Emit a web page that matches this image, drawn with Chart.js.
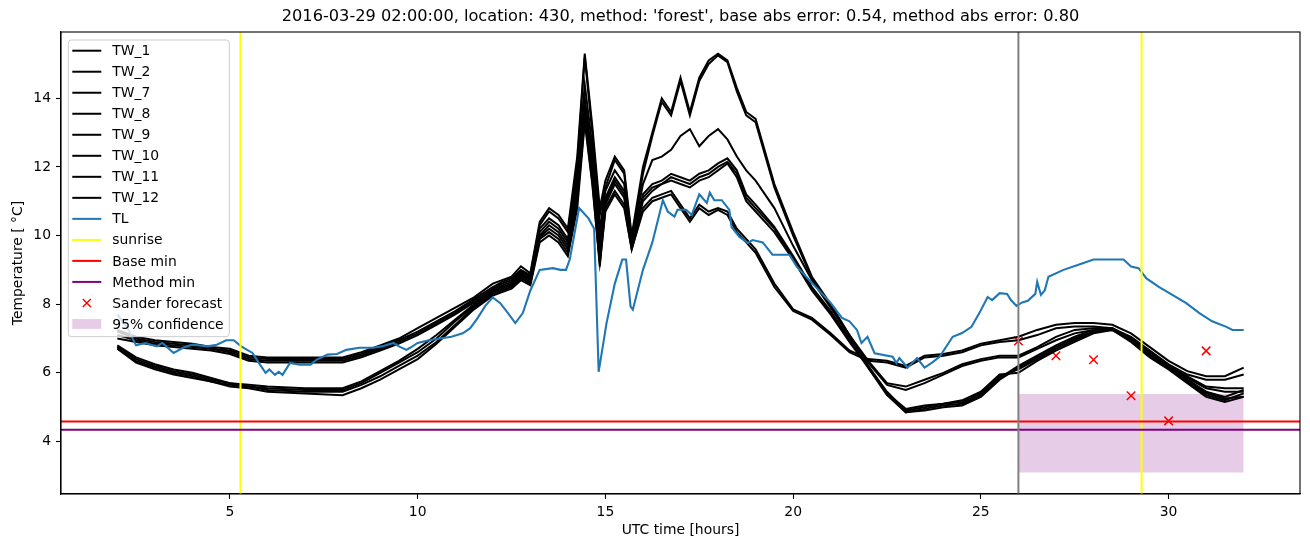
<!DOCTYPE html>
<html>
<head>
<meta charset="utf-8">
<script src="https://cdn.jsdelivr.net/npm/chart.js@4/dist/chart.umd.min.js"></script>
<style>
  body { margin: 0; background: #fff; }
  #wrap { width: 1310px; height: 547px; }
</style>
</head>
<body>
<div id="wrap"><canvas id="temperature-chart" width="1310" height="547"></canvas></div>
<script>
// hours shared by the TW series
const twHours = [2, 2.5, 3, 3.5, 4, 4.5, 5, 5.5, 6, 7, 8,
    8.5, 9, 9.5, 10, 10.5, 11, 11.5, 12,
    12.25, 12.5, 12.75, 13, 13.25, 13.5, 13.75, 14, 14.25, 14.45, 14.65, 14.85,
    15, 15.25, 15.5, 15.7, 16, 16.25, 16.5, 16.75, 17, 17.25, 17.5, 17.75, 18, 18.25, 18.5, 18.75, 19, 19.5,
    20, 20.5, 21, 21.5, 22, 22.5,
    23, 23.5, 24, 24.5, 25, 25.5, 26, 26.5, 27, 27.5, 28, 28.5, 29, 29.5, 30, 30.5, 31, 31.5, 32];

const tw1 = [7.25, 7.05, 6.95, 6.9, 6.85, 6.75, 6.7, 6.5, 6.45, 6.45, 6.45,
    6.6, 6.8, 7.0, 7.3, 7.6, 7.9, 8.2, 8.6,
    8.7, 8.8, 9.1, 8.9, 10.4, 10.8, 10.6, 10.2, 12.3, 15.3, 13.2, 10.8,
    11.6, 12.3, 11.9, 10.0, 12.0, 13.0, 14.0, 13.6, 14.6, 13.6, 14.6, 15.1, 15.3, 15.1, 14.3, 13.6, 13.4, 11.5,
    10.1, 8.8, 8.0, 7.1, 6.2, 5.4,
    4.85, 4.95, 5.05, 5.1, 5.35, 5.85, 6.2, 6.5, 6.8, 7.05, 7.25, 7.3, 6.95, 6.5, 6.15, 5.75, 5.35, 5.2, 5.4];
const tw2 = [7.2, 7.0, 6.9, 6.85, 6.8, 6.7, 6.65, 6.45, 6.4, 6.4, 6.4,
    6.55, 6.75, 6.95, 7.2, 7.5, 7.8, 8.15, 8.5,
    8.65, 8.75, 9.0, 8.85, 10.3, 10.7, 10.5, 10.1, 12.1, 15.2, 13.0, 10.6,
    11.4, 12.2, 11.8, 9.9, 11.8, 12.9, 13.9, 13.5, 14.5, 13.5, 14.5, 15.0, 15.25, 15.05, 14.2, 13.5, 13.3, 11.4,
    10.0, 8.75, 7.95, 7.05, 6.15, 5.35,
    4.85, 4.9, 5.0, 5.05, 5.3, 5.8, 6.15, 6.45, 6.75, 7.0, 7.2, 7.25, 6.9, 6.45, 6.1, 5.7, 5.3, 5.15, 5.3];
const tw7 = [7.1, 6.95, 6.85, 6.8, 6.75, 6.7, 6.6, 6.4, 6.35, 6.35, 6.35,
    6.5, 6.7, 6.9, 7.15, 7.45, 7.75, 8.1, 8.45,
    8.6, 8.7, 8.95, 8.8, 10.2, 10.5, 10.3, 9.9, 11.8, 14.4, 12.6, 10.2,
    11.3, 11.9, 11.5, 9.8, 11.5, 12.2, 12.3, 12.5, 12.9, 13.1, 12.6, 12.9, 13.1, 12.8, 12.3, 11.9, 11.6, 10.8,
    9.7, 8.7, 7.9, 7.1, 6.35, 5.7,
    5.6, 5.8, 6.0, 6.25, 6.4, 6.5, 6.5, 6.75, 7.05, 7.25, 7.3, 7.3, 7.0, 6.6, 6.2, 5.9, 5.6, 5.55, 5.55];
const tw8 = [7.0, 6.9, 6.8, 6.75, 6.7, 6.65, 6.55, 6.35, 6.3, 6.3, 6.3,
    6.45, 6.65, 6.85, 7.1, 7.4, 7.7, 8.05, 8.4,
    8.55, 8.65, 8.9, 8.75, 10.1, 10.4, 10.2, 9.8, 11.6, 14.0, 12.3, 9.9,
    11.1, 11.7, 11.3, 9.8, 11.2, 11.5, 11.6, 11.8, 11.7, 11.6, 11.8, 11.9, 12.1, 12.25, 11.9, 11.2, 10.9, 10.25,
    9.4, 8.5, 7.8, 7.0, 6.3, 5.65,
    5.5, 5.7, 5.95, 6.2, 6.35, 6.45, 6.45, 6.7, 6.95, 7.15, 7.25, 7.25, 6.95, 6.55, 6.15, 5.85, 5.55, 5.45, 5.45];
const tw9 = [6.8, 6.45, 6.25, 6.1, 6.0, 5.85, 5.7, 5.65, 5.6, 5.55, 5.55,
    5.75, 6.05, 6.35, 6.7, 7.1, 7.55, 8.0, 8.4,
    8.5, 8.6, 8.85, 8.7, 10.0, 10.3, 10.1, 9.7, 11.4, 13.8, 12.0, 9.6,
    11.0, 11.6, 11.2, 9.7, 11.1, 11.4, 11.5, 11.7, 11.6, 11.5, 11.7, 11.8, 12.0, 12.15, 11.8, 11.1, 10.8, 10.2,
    9.35, 8.45, 7.75, 6.95, 6.2, 5.45,
    4.9, 5.0, 5.1, 5.15, 5.4, 5.9, 6.1, 6.4, 6.7, 6.95, 7.2, 7.3, 7.0, 6.55, 6.2, 5.8, 5.45, 5.3, 5.5];
const tw10 = [6.75, 6.4, 6.2, 6.05, 5.95, 5.8, 5.7, 5.6, 5.55, 5.5, 5.5,
    5.7, 6.0, 6.3, 6.6, 7.0, 7.5, 7.95, 8.35,
    8.45, 8.55, 8.8, 8.65, 9.95, 10.2, 10.0, 9.6, 11.2, 13.6, 11.8, 9.3,
    10.9, 11.5, 11.1, 9.7, 11.0, 11.3, 11.5, 11.6, 11.5, 11.4, 11.6, 11.7, 11.9, 12.1, 11.7, 11.0, 10.7, 10.1,
    9.3, 8.4, 7.7, 6.9, 6.15, 5.4,
    4.95, 5.05, 5.1, 5.2, 5.45, 5.95, 6.0, 6.35, 6.65, 6.9, 7.15, 7.25, 6.95, 6.5, 6.15, 5.75, 5.4, 5.25, 5.3];
const tw11 = [6.75, 6.35, 6.15, 6.0, 5.9, 5.75, 5.65, 5.6, 5.5, 5.45, 5.45,
    5.65, 5.9, 6.2, 6.5, 6.9, 7.4, 7.9, 8.3,
    8.4, 8.5, 8.75, 8.6, 9.9, 10.1, 9.9, 9.5, 11.0, 13.4, 11.6, 9.1,
    10.8, 11.3, 10.9, 9.6, 10.8, 11.1, 11.2, 11.3, 10.9, 10.5, 10.9, 10.7, 10.8, 10.7, 10.2, 9.9, 9.6, 8.6,
    7.85, 7.6, 7.15, 6.65, 6.4, 6.35,
    6.2, 6.5, 6.55, 6.65, 6.85, 6.95, 7.05, 7.25, 7.4, 7.45, 7.45, 7.4, 7.15, 6.75, 6.35, 6.05, 5.9, 5.9, 6.15];
const tw12 = [6.7, 6.3, 6.1, 5.95, 5.85, 5.75, 5.6, 5.55, 5.45, 5.4, 5.35,
    5.55, 5.8, 6.1, 6.4, 6.85, 7.35, 7.85, 8.25,
    8.35, 8.45, 8.7, 8.55, 9.8, 10.0, 9.8, 9.4, 10.8, 13.3, 11.5, 9.2,
    10.7, 11.2, 10.8, 9.6, 10.7, 11.0, 11.1, 11.2, 10.8, 10.4, 10.8, 10.6, 10.75, 10.6, 10.1, 9.8, 9.5, 8.5,
    7.8, 7.55, 7.1, 6.6, 6.35, 6.3,
    6.15, 6.45, 6.5, 6.6, 6.8, 6.9, 6.95, 7.1, 7.3, 7.35, 7.35, 7.3, 7.05, 6.65, 6.25, 5.95, 5.8, 5.8, 5.95];

// measured air temperature
const tlHours = [2.0, 2.25, 2.5, 2.75, 3.05, 3.2, 3.5, 3.75, 4.0, 4.4, 4.65, 4.9, 5.1, 5.3, 5.6, 5.8, 5.95,
    6.05, 6.2, 6.3, 6.4, 6.6, 6.85, 7.15, 7.3, 7.6, 7.85, 8.1, 8.45, 8.8, 9.05, 9.35, 9.5, 9.7, 9.8,
    10.0, 10.3, 10.6, 10.9, 11.2, 11.4, 11.6, 11.8, 12.0, 12.2, 12.4, 12.6, 12.8, 13.0, 13.25, 13.6,
    13.8, 13.95, 14.05, 14.3, 14.55, 14.7, 14.82, 15.03, 15.25, 15.45, 15.55, 15.67, 15.73, 16.0,
    16.25, 16.53, 16.66, 16.84, 16.92, 17.15, 17.3, 17.5, 17.7, 17.78, 17.9, 18.1, 18.3, 18.36,
    18.57, 18.79, 18.92, 19.19, 19.45, 19.9, 20.1, 20.5, 21.0, 21.3, 21.5, 21.7, 21.82, 21.98,
    22.17, 22.65, 22.75, 22.83, 23.05, 23.3, 23.5, 23.7, 23.9, 24.25, 24.5, 24.75, 24.96, 25.18,
    25.3, 25.5, 25.7, 25.8, 25.95, 26.1, 26.25, 26.45, 26.5, 26.6, 26.7, 26.8, 27.2, 27.6, 28.0,
    28.4, 28.8, 29.0, 29.2, 29.41, 29.75, 30.1, 30.47, 30.82, 31.16, 31.54, 31.7, 32.0];
const tlTemp = [7.7, 7.35, 6.8, 6.87, 6.77, 6.87, 6.58, 6.73, 6.82, 6.77, 6.82, 6.95, 6.95, 6.77, 6.58, 6.24, 6.0,
    6.1, 5.94, 6.03, 5.94, 6.29, 6.24, 6.24, 6.38, 6.53, 6.55, 6.67, 6.73, 6.73, 6.77, 6.87, 6.77, 6.67, 6.73,
    6.87, 6.95, 7.0, 7.05, 7.15, 7.3, 7.6, 7.95, 8.2, 8.03, 7.75, 7.45, 7.74, 8.4, 9.0, 9.05,
    9.0, 9.0, 9.3, 10.8, 10.5, 10.2, 6.03, 7.45, 8.6, 9.3, 9.3, 7.93, 7.84, 9.0,
    9.8, 11.03, 10.7, 10.55, 10.75, 10.75, 10.6, 11.2, 10.95, 11.25, 11.03, 11.03, 10.75, 10.25,
    9.96, 9.78, 9.87, 9.8, 9.44, 9.44, 9.09, 8.62, 8.04, 7.6, 7.5, 7.25, 6.87, 7.05,
    6.57, 6.47, 6.29, 6.43, 6.15, 6.43, 6.15, 6.3, 6.47, 7.05, 7.16, 7.34, 7.74, 8.21,
    8.12, 8.32, 8.3, 8.12, 7.95, 8.05, 8.1, 8.3, 8.65, 8.27, 8.4, 8.8, 9.0, 9.15, 9.3,
    9.3, 9.3, 9.1, 9.05, 8.75, 8.5, 8.27, 8.03, 7.74, 7.5, 7.34, 7.25, 7.25];

const sunriseHours = [5.28, 29.28];
const nowHour = 26;
const baseMin = 4.58;
const methodMin = 4.34;

const sanderHours = [26, 27, 28, 29, 30, 31];
const sanderTemp = [6.93, 6.5, 6.38, 5.33, 4.6, 6.64];

const confHours = [26, 32];
const confLow = 3.1;
const confHigh = 5.38;

const xTicks = [5, 10, 15, 20, 25, 30];
const yTicks = [4, 6, 8, 10, 12, 14];
const xMin = 0.5, xMax = 33.5;
const yMin = 2.47, yMax = 15.93;

const chartTitle = "2016-03-29 02:00:00, location: 430, method: 'forest', base abs error: 0.54, method abs error: 0.80";
const twNames = ["TW_1", "TW_2", "TW_7", "TW_8", "TW_9", "TW_10", "TW_11", "TW_12"];
const twSeries = [tw1, tw2, tw7, tw8, tw9, tw10, tw11, tw12];

function pts(xs, ys) {
    return xs.map(function (x, i) { return { x: x, y: ys[i] }; });
}

Chart.defaults.font.family = "'DejaVu Sans', sans-serif";
Chart.defaults.color = "#000";

var datasets = [];
twSeries.forEach(function (s, i) {
    datasets.push({
        label: twNames[i], data: pts(twHours, s), legendType: "line",
        borderColor: "#000", borderWidth: 2, order: 60 - i,
    });
});
datasets.push({ label: "TL", data: pts(tlHours, tlTemp), legendType: "line",
    borderColor: "#1f77b4", borderWidth: 2.1, order: 40 });
datasets.push({ label: "sunrise", legendType: "line", borderColor: "#ffff00", borderWidth: 2, order: 30,
    data: [{ x: sunriseHours[0], y: yMin }, { x: sunriseHours[0], y: yMax }] });
datasets.push({ label: "Base min", legendType: "line", borderColor: "#ff0000", borderWidth: 2, order: 28,
    data: [{ x: xMin, y: baseMin }, { x: xMax, y: baseMin }] });
datasets.push({ label: "Method min", legendType: "line", borderColor: "#800080", borderWidth: 2, order: 27,
    data: [{ x: xMin, y: methodMin }, { x: xMax, y: methodMin }] });
datasets.push({ label: "Sander forecast", legendType: "marker", data: pts(sanderHours, sanderTemp),
    showLine: false, pointStyle: "crossRot", pointRadius: 6, borderColor: "#ff0000",
    pointBorderColor: "#ff0000", pointBorderWidth: 1.5, order: 99 });
datasets.push({ label: "95% confidence", legendType: "patch",
    data: [{ x: confHours[0], y: confHigh }, { x: confHours[1], y: confHigh }],
    fill: "+1", backgroundColor: "rgba(128,0,128,0.2)", borderWidth: 0, order: 100 });
datasets.push({ data: [{ x: confHours[0], y: confLow }, { x: confHours[1], y: confLow }],
    borderWidth: 0, order: 100 });
// second sunrise and the forecast time, not in the legend
datasets.push({ borderColor: "#ffff00", borderWidth: 2, order: 29,
    data: [{ x: sunriseHours[1], y: yMin }, { x: sunriseHours[1], y: yMax }] });
datasets.push({ borderColor: "#808080", borderWidth: 2, order: 26,
    data: [{ x: nowHour, y: yMin }, { x: nowHour, y: yMax }] });

// matplotlib style frame, title over the axes and legend box inside them
const boxLegend = {
    id: "boxLegend",
    afterDraw: function (chart) {
        const c = chart.ctx, a = chart.chartArea;
        c.save();
        c.strokeStyle = "#000";
        c.lineWidth = 1.1;
        c.strokeRect(a.left, a.top, a.right - a.left, a.bottom - a.top);

        c.fillStyle = "#000";
        c.font = "16.2px 'DejaVu Sans'";
        c.textAlign = "center";
        c.textBaseline = "middle";
        c.fillText(chartTitle, (a.left + a.right) / 2, 17);

        const items = chart.data.datasets.filter(function (d) { return d.label; });
        const bx = a.left + 7.3, by = a.top + 8;
        const rowH = 21.02;
        const bw = 161, bh = 10.7 + (items.length - 1) * rowH + 12.7;
        c.beginPath();
        c.roundRect(bx, by, bw, bh, 3);
        c.fillStyle = "rgba(255,255,255,0.8)";
        c.fill();
        c.strokeStyle = "#cccccc";
        c.lineWidth = 1;
        c.stroke();

        c.font = "13.9px 'DejaVu Sans'";
        c.textBaseline = "middle";
        c.textAlign = "left";
        items.forEach(function (d, i) {
            const y = by + 10.7 + i * rowH;
            const x1 = bx + 4, x2 = bx + 33;
            if (d.legendType === "line") {
                c.strokeStyle = d.borderColor;
                c.lineWidth = 2;
                c.beginPath();
                c.moveTo(x1, y);
                c.lineTo(x2, y);
                c.stroke();
            } else if (d.legendType === "marker") {
                const mx = (x1 + x2) / 2, r = 4;
                c.strokeStyle = d.borderColor;
                c.lineWidth = 1.5;
                c.beginPath();
                c.moveTo(mx - r, y - r); c.lineTo(mx + r, y + r);
                c.moveTo(mx - r, y + r); c.lineTo(mx + r, y - r);
                c.stroke();
            } else {
                c.fillStyle = d.backgroundColor;
                c.fillRect(x1, y - 4.9, x2 - x1, 9.8);
            }
            c.fillStyle = "#000";
            c.fillText(d.label, bx + 44, y + 1);
        });
        c.restore();
    },
};

new Chart(document.getElementById("temperature-chart"), {
    type: "line",
    data: { datasets: datasets },
    plugins: [boxLegend],
    options: {
        responsive: false,
        animation: false,
        events: [],
        layout: { padding: { left: 0, right: 10, top: 32, bottom: 0 } },
        elements: {
            point: { radius: 0 },
            line: { tension: 0, fill: false },
        },
        plugins: {
            legend: { display: false },
            tooltip: { enabled: false },
            title: { display: false },
        },
        scales: {
            x: {
                type: "linear",
                min: xMin,
                max: xMax,
                afterBuildTicks: function (scale) {
                    scale.ticks = xTicks.map(function (v) { return { value: v }; });
                },
                afterFit: function (scale) { scale.height = 53; },
                ticks: { font: { size: 13.9 }, padding: 5, maxRotation: 0, color: "#000" },
                grid: { drawOnChartArea: false, tickLength: 5, tickColor: "#000", tickWidth: 1.1 },
                border: { display: true, color: "#000", width: 1.1 },
                title: { display: true, text: "UTC time [hours]", font: { size: 13.9 },
                    padding: { top: 0, bottom: 8.7 }, color: "#000" },
            },
            y: {
                min: yMin,
                max: yMax,
                afterBuildTicks: function (scale) {
                    scale.ticks = yTicks.map(function (v) { return { value: v }; });
                },
                afterFit: function (scale) { scale.width = 61; },
                ticks: { font: { size: 13.9 }, padding: 5, color: "#000" },
                grid: { drawOnChartArea: false, tickLength: 5, tickColor: "#000", tickWidth: 1.1 },
                border: { display: true, color: "#000", width: 1.1 },
                title: { display: true, text: "Temperature [ °C]", font: { size: 13.9 },
                    padding: { top: 10, bottom: 0 }, color: "#000" },
            },
        },
    },
});
</script>
</body>
</html>
